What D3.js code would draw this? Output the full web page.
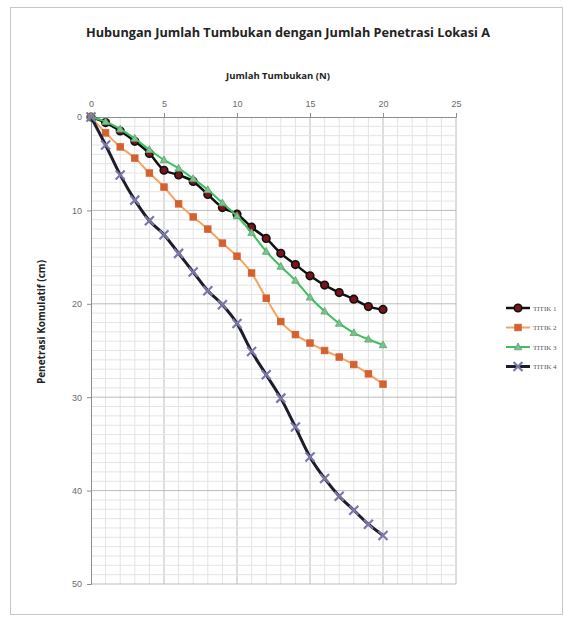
<!DOCTYPE html>
<html>
<head>
<meta charset="utf-8">
<script src="https://cdn.jsdelivr.net/npm/d3@7"></script>
<style>
  body { margin: 0; background: #fff; }
  svg { display: block; }
</style>
</head>
<body>
<svg id="chart" width="564" height="625"></svg>
<script>
// Jumlah tumbukan (N), 0..20
const blows = d3.range(0, 21);
const titik1 = [0, 0.6, 1.5, 2.6, 3.9, 5.7, 6.2, 6.9, 8.3, 9.7, 10.4, 11.8, 13.0, 14.6, 15.8, 17.0, 18.0, 18.8, 19.5, 20.3, 20.6];
const titik2 = [0, 1.7, 3.2, 4.4, 6.0, 7.5, 9.3, 10.7, 12.0, 13.5, 14.9, 16.7, 19.4, 21.9, 23.3, 24.2, 25.0, 25.7, 26.5, 27.5, 28.6];
const titik3 = [0, 0.5, 1.3, 2.3, 3.5, 4.6, 5.5, 6.6, 7.8, 9.2, 10.6, 12.4, 14.4, 16.0, 17.5, 19.3, 20.8, 22.1, 23.1, 23.8, 24.4];
const titik4 = [0, 3.0, 6.2, 8.9, 11.1, 12.6, 14.6, 16.6, 18.6, 20.1, 22.1, 25.1, 27.6, 30.1, 33.2, 36.4, 38.7, 40.6, 42.1, 43.6, 44.8];
const seriesNames = ["TITIK 1", "TITIK 2", "TITIK 3", "TITIK 4"];
const xTicks = [0, 5, 10, 15, 20, 25];
const yTicks = [0, 10, 20, 30, 40, 50];

const svg = d3.select('#chart');

// outer frame of the chart object
svg.append('rect')
    .attr('x', 10.5).attr('y', 7.5)
    .attr('width', 552).attr('height', 607)
    .attr('fill', 'none').attr('stroke', '#c8c8c8');

const x = d3.scaleLinear().domain([0, 25]).range([91, 456]);
const y = d3.scaleLinear().domain([0, 50]).range([117, 584]);

// grid: every unit, darker at the labelled ticks
const grid = svg.append('g');
grid.selectAll('line.vx')
    .data(d3.range(1, 26))
    .enter().append('line')
    .attr('x1', d => x(d)).attr('x2', d => x(d))
    .attr('y1', y(0)).attr('y2', y(50))
    .attr('stroke', d => d % 5 === 0 ? '#bcbcbc' : '#e4e4e4')
    .attr('stroke-width', 1);
grid.selectAll('line.hy')
    .data(d3.range(1, 51))
    .enter().append('line')
    .attr('x1', x(0)).attr('x2', x(25))
    .attr('y1', d => y(d)).attr('y2', d => y(d))
    .attr('stroke', d => d % 10 === 0 ? '#bcbcbc' : '#e4e4e4')
    .attr('stroke-width', 1);

// axes
const xAxis = svg.append('g')
    .attr('transform', 'translate(0,' + y(0) + ')')
    .call(d3.axisTop(x).tickValues(xTicks).tickSize(4).tickPadding(6));
const yAxis = svg.append('g')
    .attr('transform', 'translate(' + x(0) + ',0)')
    .call(d3.axisLeft(y).tickValues(yTicks).tickSize(4).tickPadding(5));
[xAxis, yAxis].forEach(a => {
    a.select('.domain').attr('stroke', '#8c8c8c');
    a.selectAll('.tick line').attr('stroke', '#8c8c8c');
    a.selectAll('.tick text')
        .attr('fill', '#6a6a6a')
        .style('font-family', 'Liberation Sans, Arial, sans-serif')
        .style('font-size', '9px');
});

// titles
svg.append('text')
    .attr('x', 288).attr('y', 37)
    .attr('text-anchor', 'middle')
    .style('font-family', 'Open Sans, sans-serif')
    .style('font-weight', 'bold')
    .style('font-size', '12.7px')
    .attr('fill', '#222')
    .text('Hubungan Jumlah Tumbukan dengan Jumlah Penetrasi Lokasi A');

svg.append('text')
    .attr('x', 278).attr('y', 79)
    .attr('text-anchor', 'middle')
    .style('font-family', 'Open Sans, sans-serif')
    .style('font-weight', 'bold')
    .style('font-size', '9.5px')
    .attr('fill', '#222')
    .text('Jumlah Tumbukan (N)');

svg.append('text')
    .attr('transform', 'translate(45,322) rotate(-90)')
    .attr('text-anchor', 'middle')
    .style('font-family', 'Open Sans, sans-serif')
    .style('font-weight', 'bold')
    .style('font-size', '10px')
    .attr('fill', '#222')
    .text('Penetrasi Komulatif (cm)');

// series
const series = [
    { name: seriesNames[0], values: titik1, line: '#111111', width: 2.5, marker: 'circle', fill: '#7a1418', stroke: '#111' },
    { name: seriesNames[1], values: titik2, line: '#f4a460', width: 2, marker: 'square', fill: '#d4622f', stroke: '#d4622f' },
    { name: seriesNames[2], values: titik3, line: '#3cc060', width: 2, marker: 'triangle', fill: '#7dbf8e', stroke: '#5aa86e' },
    { name: seriesNames[3], values: titik4, line: '#1c1c2c', width: 3, marker: 'cross', fill: 'none', stroke: '#7a78a8' }
];

const lineGen = d3.line().x((d, i) => x(blows[i])).y(d => y(d)).curve(d3.curveMonotoneX);

function drawMarker(g, type, s) {
    if (type === 'circle') {
        g.append('circle').attr('r', 3.8)
            .attr('fill', s.fill).attr('stroke', s.stroke).attr('stroke-width', 1.6);
    } else if (type === 'square') {
        g.append('rect').attr('x', -3.2).attr('y', -3.2).attr('width', 6.4).attr('height', 6.4)
            .attr('fill', s.fill).attr('stroke', s.stroke);
    } else if (type === 'triangle') {
        g.append('path').attr('d', 'M0,-4L3.8,2.8L-3.8,2.8Z')
            .attr('fill', s.fill).attr('stroke', s.stroke).attr('stroke-width', 0.8);
    } else {
        g.append('path').attr('d', 'M-4.5,-4.5L4.5,4.5M-4.5,4.5L4.5,-4.5')
            .attr('stroke', s.stroke).attr('stroke-width', 2.2).attr('fill', 'none');
    }
}

series.forEach(s => {
    svg.append('path')
        .datum(s.values)
        .attr('d', lineGen)
        .attr('fill', 'none')
        .attr('stroke', s.line)
        .attr('stroke-width', s.width);
    svg.append('g').selectAll('g')
        .data(s.values)
        .enter().append('g')
        .attr('transform', (d, i) => 'translate(' + x(blows[i]) + ',' + y(d) + ')')
        .each(function () { drawMarker(d3.select(this), s.marker, s); });
});

// legend
const legend = svg.append('g');
series.forEach((s, i) => {
    const ly = 308 + i * 19.5;
    const g = legend.append('g').attr('transform', 'translate(0,' + ly + ')');
    g.append('line').attr('x1', 506).attr('x2', 530).attr('y1', 0).attr('y2', 0)
        .attr('stroke', s.line).attr('stroke-width', s.width);
    const m = g.append('g').attr('transform', 'translate(518,0)');
    drawMarker(m, s.marker, s);
    g.append('text').attr('x', 533).attr('y', 2.5)
        .style('font-family', 'Liberation Serif, serif')
        .style('font-size', '7px')
        .attr('fill', '#555')
        .text(s.name);
});
</script>
</body>
</html>
